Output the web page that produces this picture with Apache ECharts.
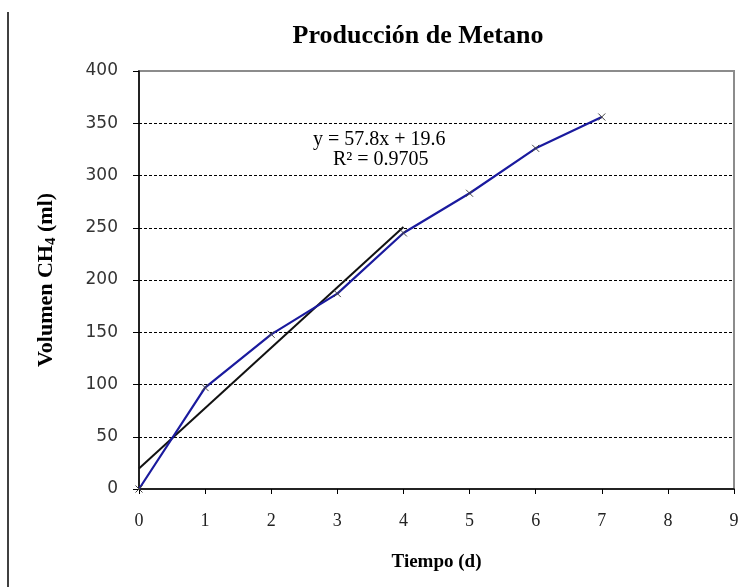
<!DOCTYPE html>
<html>
<head>
<meta charset="utf-8">
<script src="https://cdn.jsdelivr.net/npm/echarts@6/dist/echarts.min.js"></script>
<style>
  html, body { margin: 0; padding: 0; background: #fff; }
  #main { width: 755px; height: 587px; }
</style>
</head>
<body>
<div id="main"></div>
<script>
// datos
var dias = [0, 1, 2, 3, 4, 5, 6, 7];
var volumen = [0, 97, 148, 187, 245, 283, 326, 356];
// linea de tendencia (Excel) sobre los dias 0 a 4
var pendiente = 57.8;
var intercepto = 19.6;
var tendenciaDias = [0, 4];
var ecuacion = 'y = 57.8x + 19.6';
var r2 = 'R² = 0.9705';

var chart = echarts.init(document.getElementById('main'));

var serie = [];
for (var i = 0; i < dias.length; i++) {
    serie.push([dias[i], volumen[i]]);
}
var tendencia = tendenciaDias.map(function (d) {
    return [d, pendiente * d + intercepto];
});

var serif = '"Liberation Serif", "Times New Roman", serif';

var option = {
    animation: false,
    backgroundColor: '#fff',
    title: {
        text: 'Producción de Metano',
        left: 413,
        top: 18,
        textAlign: 'center',
        textStyle: {
            fontFamily: serif,
            fontWeight: 'bold',
            fontSize: 26,
            color: '#000'
        }
    },
    grid: {
        left: 139,
        right: 21,
        top: 71,
        bottom: 98,
        show: true,
        borderColor: '#8c8c8c',
        borderWidth: 2
    },
    xAxis: {
        type: 'value',
        min: 0,
        max: 9,
        interval: 1,
        name: 'Tiempo (d)',
        nameLocation: 'middle',
        nameGap: 64,
        nameTextStyle: {
            fontFamily: serif,
            fontWeight: 'bold',
            fontSize: 19,
            color: '#000'
        },
        axisLine: { lineStyle: { color: '#000', width: 1.5 } },
        axisTick: { show: true, length: 5, lineStyle: { color: '#000' } },
        axisLabel: {
            margin: 23,
            fontFamily: serif,
            fontSize: 18,
            color: '#222'
        },
        splitLine: { show: false }
    },
    yAxis: {
        type: 'value',
        min: 0,
        max: 400,
        interval: 50,
        name: '{a|Volumen CH}{s|4}{a| (ml)}',
        nameLocation: 'middle',
        nameRotate: 90,
        nameGap: 80,
        nameTextStyle: {
            rich: {
                a: { fontFamily: serif, fontWeight: 'bold', fontSize: 22, color: '#000' },
                s: { fontFamily: serif, fontWeight: 'bold', fontSize: 15, color: '#000', padding: [10, 0, 0, 0] }
            }
        },
        axisLine: { show: true, lineStyle: { color: '#000', width: 1.5 } },
        axisTick: { show: true, length: 6, lineStyle: { color: '#000' } },
        axisLabel: {
            margin: 21,
            fontFamily: '"DejaVu Sans", sans-serif',
            fontSize: 17,
            color: '#333'
        },
        splitLine: {
            show: true,
            showMinLine: false,
            showMaxLine: false,
            lineStyle: { color: '#000', type: [3, 2], width: 1 }
        }
    },
    series: [
        {
            name: 'Volumen',
            type: 'line',
            data: serie,
            symbol: 'path://M0,0L10,10M10,0L0,10',
            symbolSize: 7,
            showAllSymbol: true,
            lineStyle: { color: '#1a1a9e', width: 2.2 },
            itemStyle: { color: '#1a1a9e', borderColor: '#444', borderWidth: 1 },
            z: 3
        },
        {
            name: 'Tendencia',
            type: 'line',
            data: tendencia,
            symbol: 'none',
            lineStyle: { color: '#111', width: 2 },
            z: 2
        }
    ],
    graphic: [
        {
            type: 'line',
            shape: { x1: 8, y1: 12, x2: 8, y2: 587 },
            style: { stroke: '#000', lineWidth: 1.5 }
        },
        {
            type: 'text',
            left: 313,
            top: 130,
            style: { text: ecuacion, font: '20px ' + serif, fill: '#000' }
        },
        {
            type: 'text',
            left: 333,
            top: 150,
            style: { text: r2, font: '20px ' + serif, fill: '#000' }
        }
    ]
};

chart.setOption(option);
</script>
</body>
</html>
